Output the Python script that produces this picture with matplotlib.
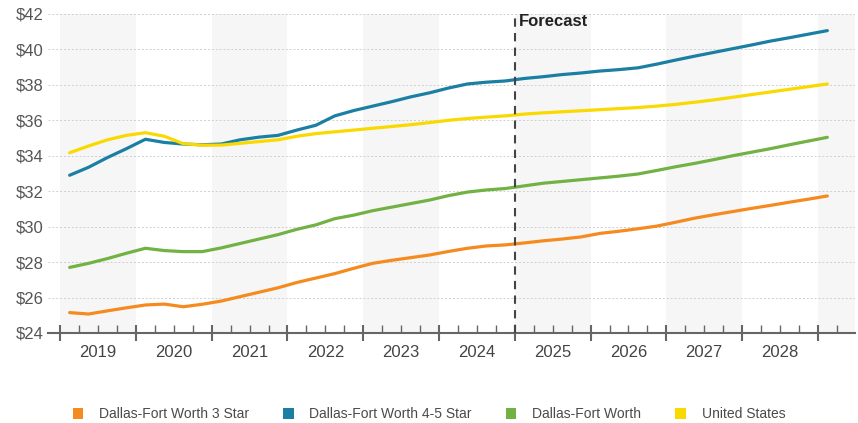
import numpy as np
import matplotlib.pyplot as plt
from matplotlib.patches import Patch
from matplotlib.ticker import FixedLocator, FuncFormatter

plt.rcParams['font.family'] = ['Liberation Sans', 'DejaVu Sans']

# quarterly asking rent per sq ft, 2019 Q1 .. 2029 Q1
start_year = 2019
n_quarters = 41
forecast_start = 2025

dfw_3_star = [25.15, 25.07, 25.25, 25.42, 25.58, 25.63, 25.48, 25.62, 25.80, 26.05,
              26.30, 26.55, 26.85, 27.10, 27.35, 27.65, 27.93, 28.10, 28.25, 28.40,
              28.60, 28.78, 28.91, 28.97, 29.08, 29.20, 29.30, 29.42, 29.62, 29.74,
              29.88, 30.03, 30.25, 30.48, 30.67, 30.85, 31.03, 31.20, 31.38, 31.55,
              31.73]
dfw_4_5_star = [32.90, 33.35, 33.90, 34.40, 34.93, 34.75, 34.66, 34.62, 34.66, 34.90,
                35.05, 35.15, 35.45, 35.72, 36.25, 36.55, 36.80, 37.05, 37.32, 37.55,
                37.82, 38.05, 38.15, 38.22, 38.36, 38.46, 38.58, 38.67, 38.78, 38.86,
                38.96, 39.17, 39.40, 39.62, 39.83, 40.04, 40.25, 40.47, 40.66, 40.86,
                41.06]
dfw_all = [27.70, 27.93, 28.20, 28.50, 28.78, 28.65, 28.59, 28.59, 28.80, 29.05,
           29.30, 29.55, 29.85, 30.10, 30.45, 30.65, 30.90, 31.10, 31.30, 31.50,
           31.75, 31.95, 32.07, 32.15, 32.30, 32.45, 32.55, 32.65, 32.75, 32.85,
           32.97, 33.17, 33.38, 33.57, 33.78, 34.00, 34.20, 34.40, 34.62, 34.83,
           35.04]
united_states = [34.17, 34.55, 34.90, 35.15, 35.30, 35.10, 34.68, 34.60, 34.60, 34.70,
                 34.80, 34.90, 35.10, 35.25, 35.35, 35.45, 35.55, 35.65, 35.75, 35.87,
                 36.00, 36.10, 36.18, 36.25, 36.35, 36.42, 36.48, 36.54, 36.60, 36.66,
                 36.72, 36.80, 36.90, 37.02, 37.15, 37.30, 37.45, 37.60, 37.75, 37.90,
                 38.05]

series_names = ['Dallas-Fort Worth 3 Star', 'Dallas-Fort Worth 4-5 Star',
                'Dallas-Fort Worth', 'United States']
series_values = [dfw_3_star, dfw_4_5_star, dfw_all, united_states]
colors = ['#f58a1f', '#1b7fa3', '#72b245', '#f9d900']
year_labels = list(range(2019, 2029))

x = start_year + (np.arange(n_quarters) + 0.5) / 4

fig = plt.figure(figsize=(8.58, 4.23), dpi=100)
ax = fig.add_axes([0.056, 0.2128, 0.9405, 0.7542])

# alternating year bands
for yr in range(2019, 2030, 2):
    ax.axvspan(yr, yr + 1, color='#f6f6f6', zorder=0, lw=0)

for vals, c in zip(series_values, colors):
    ax.plot(x, vals, color=c, lw=2.3, solid_capstyle='round', zorder=3)

ax.axvline(forecast_start, color='#444444', lw=1.5, ls=(0, (4, 3)), zorder=4)
ax.text(forecast_start + 0.05, 41.55, 'Forecast', fontsize=12, fontweight='bold',
        color='#222222', va='center', ha='left')

ax.set_xlim(2018.84, 2029.49)
ax.set_ylim(24, 42)
ax.set_yticks(np.arange(24, 43, 2))
ax.yaxis.set_major_formatter(FuncFormatter(lambda v, p: f'${v:.0f}'))
ax.yaxis.grid(True, color='#cfcfcf', ls=(0, (2, 2)), lw=0.7)
ax.set_axisbelow(True)
ax.tick_params(axis='y', length=0, labelsize=12, labelcolor='#555555', pad=3)

# year boundaries as major ticks, quarter marks as minor ticks
ax.set_xticks(np.arange(2019, 2030))
ax.xaxis.set_major_formatter(FuncFormatter(lambda v, p: ''))
quarters = [q for q in np.arange(2019, 2029.5, 0.25) if q % 1 != 0]
ax.xaxis.set_minor_locator(FixedLocator(quarters))


def year_label(v, p):
    yr = int(np.floor(v))
    if abs(v - yr - 0.5) < 1e-6 and yr in year_labels:
        return str(yr)
    return ''


ax.xaxis.set_minor_formatter(FuncFormatter(year_label))
ax.tick_params(axis='x', which='major', direction='inout', length=12, width=1.5,
               color='#666666')
ax.tick_params(axis='x', which='minor', direction='in', length=6, width=1,
               color='#666666', labelsize=12, labelcolor='#444444', pad=9)

for side in ['top', 'right', 'left']:
    ax.spines[side].set_visible(False)
ax.spines['bottom'].set_color('#666666')
ax.spines['bottom'].set_linewidth(1.5)

handles = [Patch(facecolor=c, edgecolor='none') for c in colors]
fig.legend(handles, series_names, loc='center', bbox_to_anchor=(0.5, 0.0213),
           ncol=4, frameon=False, fontsize=10, handlelength=0.75, handleheight=0.85,
           handletextpad=1.15, columnspacing=2.45, labelcolor='#4a4a4a')

fig.savefig('out.png', dpi=100)
